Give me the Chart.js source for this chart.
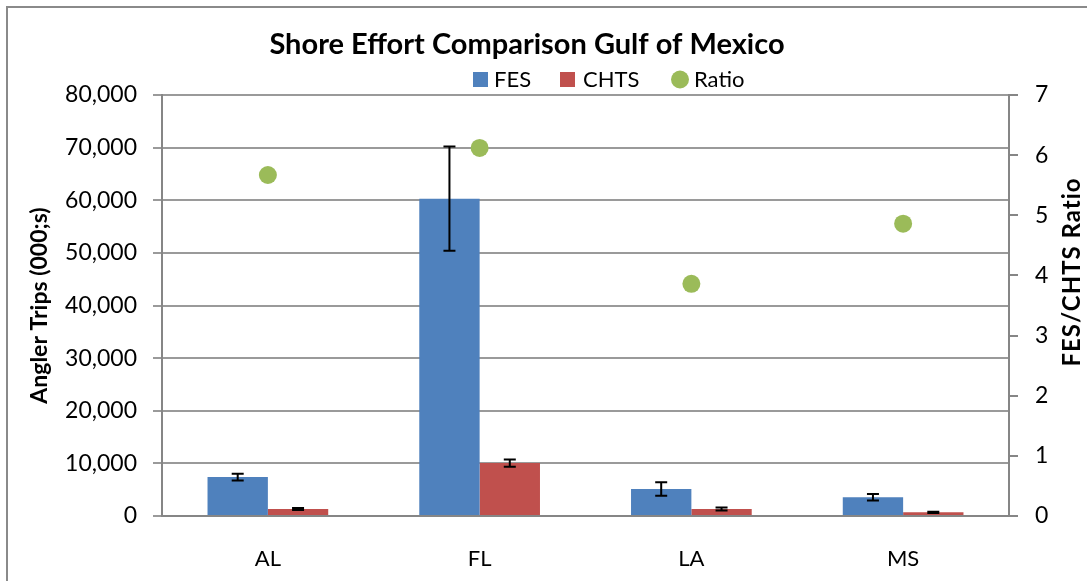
<!DOCTYPE html>
<html>
<head>
<meta charset="utf-8">
<script src="https://cdn.jsdelivr.net/npm/chart.js@4.4.0/dist/chart.umd.min.js"></script>
<style>
    html, body { margin: 0; padding: 0; background: #fff; overflow: hidden; }
    #wrap { position: relative; width: 1087px; height: 581px; }
    #frame { position: absolute; left: 6px; top: 6px; width: 1200px; height: 700px; border: 2px solid #8a8a8a; }
    canvas { position: absolute; left: 0; top: 0; }
</style>
</head>
<body>
<div id="wrap">
    <div id="frame"></div>
    <canvas id="shore" width="1087" height="581"></canvas>
</div>
<script>
// 데이터
var states = ['AL', 'FL', 'LA', 'MS'];
var fesTrips = [7400, 60300, 5130, 3550];
var fesErr = [650, 9900, 1300, 620];
var chtsTrips = [1330, 10050, 1330, 700];
var chtsErr = [200, 700, 300, 130];
var ratio = [5.67, 6.12, 3.86, 4.86];
var fontName = 'Lato';

// 오차막대
const errorBars = {
    id: 'errorBars',
    afterDatasetsDraw: function(chart) {
        var ctx = chart.ctx;
        var y = chart.scales.y;
        ctx.save();
        ctx.strokeStyle = '#000';
        ctx.lineWidth = 2;
        chart.data.datasets.forEach(function(ds, i) {
            if (!ds.errors) return;
            chart.getDatasetMeta(i).data.forEach(function(bar, j) {
                var v = ds.data[j];
                var top = y.getPixelForValue(v + ds.errors[j]);
                var bot = y.getPixelForValue(v - ds.errors[j]);
                ctx.beginPath();
                ctx.moveTo(bar.x, top); ctx.lineTo(bar.x, bot);
                ctx.moveTo(bar.x - 6, top); ctx.lineTo(bar.x + 6, top);
                ctx.moveTo(bar.x - 6, bot); ctx.lineTo(bar.x + 6, bot);
                ctx.stroke();
            });
        });
        ctx.restore();
    }
};

// 제목 + 범례 + 오른쪽 축 제목
const headerText = {
    id: 'headerText',
    afterDraw: function(chart) {
        var ctx = chart.ctx;
        ctx.save();
        ctx.fillStyle = '#000';
        ctx.font = 'bold 29px ' + fontName;
        ctx.textAlign = 'center';
        ctx.textBaseline = 'middle';
        ctx.fillText('Shore Effort Comparison Gulf of Mexico', 527, 45);

        ctx.save();
        ctx.translate(1072, 272);
        ctx.rotate(-Math.PI / 2);
        ctx.font = 'bold 24px ' + fontName;
        ctx.letterSpacing = '1px';
        ctx.fillText('FES/CHTS Ratio', 0, 0);
        ctx.restore();

        ctx.font = '22px ' + fontName;
        ctx.textAlign = 'left';
        var ds = chart.data.datasets;
        ctx.fillStyle = ds[0].backgroundColor;
        ctx.fillRect(473, 72, 15, 15);
        ctx.fillStyle = ds[1].backgroundColor;
        ctx.fillRect(560, 72, 15, 15);
        ctx.fillStyle = ds[2].backgroundColor;
        ctx.beginPath();
        ctx.arc(680, 79.5, 9, 0, Math.PI * 2);
        ctx.fill();
        ctx.fillStyle = '#000';
        ctx.fillText(ds[0].label, 494, 80);
        ctx.fillText(ds[1].label, 583, 80);
        ctx.fillText(ds[2].label, 694, 80);
        ctx.restore();
    }
};

var shore = document.getElementById('shore').getContext('2d');
var shoreChart = new Chart(shore, {
    type: 'bar',
    data: {
        labels: states,
        datasets: [
            {
                label: 'FES',
                data: fesTrips,
                errors: fesErr,
                backgroundColor: '#4F81BD',
                yAxisID: 'y',
                order: 2
            },
            {
                label: 'CHTS',
                data: chtsTrips,
                errors: chtsErr,
                backgroundColor: '#C0504D',
                yAxisID: 'y',
                order: 2
            },
            {
                type: 'line',
                label: 'Ratio',
                data: ratio,
                showLine: false,
                backgroundColor: '#9BBB59',
                borderColor: '#9BBB59',
                pointRadius: 9,
                pointBorderWidth: 0,
                yAxisID: 'y2',
                order: 1
            }
        ]
    },
    options: {
        responsive: false,
        animation: false,
        categoryPercentage: 0.57,
        barPercentage: 1,
        layout: { padding: { left: 19, top: 95, right: 0, bottom: 0 } },
        plugins: {
            legend: { display: false },
            title: { display: false },
            tooltip: { enabled: false }
        },
        scales: {
            x: {
                grid: { display: false },
                border: { display: true, color: '#868686', width: 2 },
                ticks: { color: '#000', padding: 22, font: { family: fontName, size: 22 } },
                afterFit: function(s) { s.height = 65; }
            },
            y: {
                position: 'left',
                min: 0,
                max: 80000,
                ticks: {
                    stepSize: 10000,
                    color: '#000',
                    padding: 16,
                    font: { family: fontName, size: 23 },
                    callback: function(v) { return v.toLocaleString('en-US'); }
                },
                grid: { color: '#9a9a9a', lineWidth: 2, tickLength: 9 },
                border: { display: true, color: '#868686', width: 2 },
                title: {
                    display: true,
                    text: 'Angler Trips (000;s)',
                    color: '#000',
                    padding: { top: 7, bottom: 0 },
                    font: { family: fontName, size: 23, weight: 'bold' }
                },
                afterFit: function(s) { s.width = 143; }
            },
            y2: {
                position: 'right',
                min: 0,
                max: 7,
                ticks: {
                    stepSize: 1,
                    color: '#000',
                    padding: 17,
                    font: { family: fontName, size: 23 }
                },
                grid: { drawOnChartArea: false, color: '#868686', lineWidth: 2, tickLength: 9 },
                border: { display: true, color: '#868686', width: 2 },
                title: { display: false },
                afterFit: function(s) { s.width = 78; }
            }
        }
    },
    plugins: [errorBars, headerText]
});
</script>
</body>
</html>
